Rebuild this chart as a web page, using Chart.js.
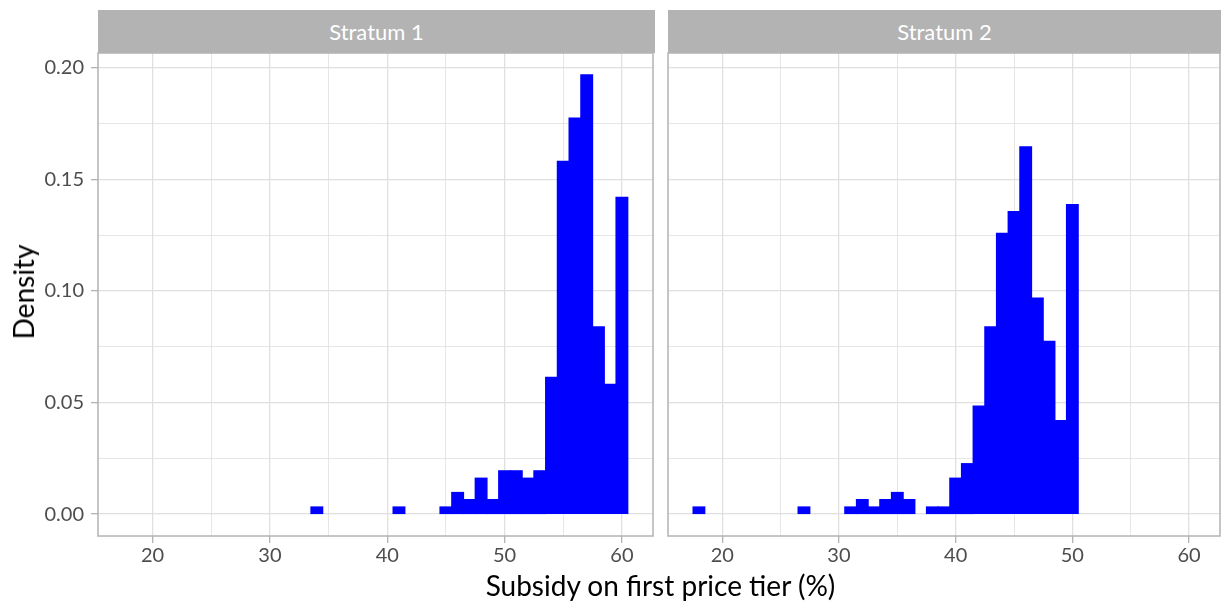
<!DOCTYPE html>
<html>
<head>
<meta charset="utf-8">
<script src="https://cdn.jsdelivr.net/npm/chart.js@4"></script>
<style>
  html, body { margin: 0; padding: 0; background: #ffffff; }
  #wrap { position: relative; width: 1221px; height: 603px; overflow: hidden; font-family: Lato, sans-serif; }
  .strip {
    position: absolute; top: 10px; height: 43px; background: #b3b3b3; color: #ffffff;
    font-size: 22px; line-height: 43px; text-align: center;
  }
  .panel { position: absolute; top: 0; height: 603px; }
  #xtitle { position: absolute; left: 0; width: 1321px; top: 571px; text-align: center; font-size: 28px; line-height: 28px; color: #000; }
  #ytitle {
    position: absolute; left: 23px; top: 292px; font-size: 28px; line-height: 28px; color: #000;
    transform: translate(-50%, -50%) rotate(-90deg); white-space: nowrap;
  }
</style>
</head>
<body>
<div id="wrap">
  <div class="panel" style="left:0;width:660px"><canvas id="chart1"></canvas></div>
  <div class="panel" style="left:660px;width:561px"><canvas id="chart2"></canvas></div>
  <div class="strip" style="left:98px;width:557px">Stratum 1</div>
  <div class="strip" style="left:668px;width:553px">Stratum 2</div>
  <div id="xtitle">Subsidy on first price tier (%)</div>
  <div id="ytitle">Density</div>
</div>

<script>
/* ================================
   DATA (bin centres, width 1)
================================ */
const panelTitles = ["Stratum 1", "Stratum 2"];

const stratum1Bins = [34, 41, 45, 46, 47, 48, 49, 50, 51, 52, 53, 54, 55, 56, 57, 58, 59, 60];
const stratum1Density = [0.0032, 0.0032, 0.0032, 0.0097, 0.0065, 0.0161, 0.0065, 0.0194, 0.0194,
                         0.0161, 0.0194, 0.0613, 0.1581, 0.1774, 0.1968, 0.0839, 0.0581, 0.1419];

const stratum2Bins = [18, 27, 31, 32, 33, 34, 35, 36, 38, 39, 40, 41, 42, 43, 44, 45, 46, 47, 48, 49, 50];
const stratum2Density = [0.0032, 0.0032, 0.0032, 0.0065, 0.0032, 0.0065, 0.0097, 0.0065, 0.0032, 0.0032,
                         0.0161, 0.0226, 0.0484, 0.0839, 0.1258, 0.1355, 0.1645, 0.0968, 0.0774, 0.0419, 0.1387];

const xMajorTicks = [20, 30, 40, 50, 60];
const xMinorTicks = [25, 35, 45, 55];
const yMajorTicks = [0, 0.05, 0.10, 0.15, 0.20];
const yMinorTicks = [0.025, 0.075, 0.125, 0.175];

const X_MIN = 15.35, X_MAX = 62.65;
const Y_MIN = -0.0098, Y_MAX = 0.2066;

const GRID = "#e0e0e0";
const FRAME = "#b3b3b3";
const TICK_TEXT = "#4d4d4d";

/* ================================
   HELPERS
================================ */
function setTicks(major, minor) {
    return function (scale) {
        scale.ticks = major.concat(minor).sort((a, b) => a - b).map(v => ({ value: v }));
    };
}

const frame = {
    id: "frame",
    afterDatasetsDraw(chart) {
        const a = chart.chartArea;
        const ctx = chart.ctx;
        ctx.save();
        ctx.strokeStyle = FRAME;
        ctx.lineWidth = 1.5;
        ctx.strokeRect(a.left, a.top, a.right - a.left, a.bottom - a.top);
        ctx.restore();
    }
};

function makePanel(canvasId, bins, density, showY, axisWidth, padRight) {
    return new Chart(document.getElementById(canvasId), {
        type: "bar",
        data: {
            datasets: [{
                data: bins.map((b, i) => ({ x: b, y: density[i] })),
                backgroundColor: "#0000ff",
                borderWidth: 0,
                inflateAmount: 0.6,
                barPercentage: 1,
                categoryPercentage: 1
            }]
        },
        options: {
            responsive: true,
            maintainAspectRatio: false,
            animation: false,
            layout: { padding: { top: 53, right: padRight, left: 0, bottom: 0 } },
            plugins: { legend: { display: false }, tooltip: { enabled: false } },
            scales: {
                x: {
                    type: "linear",
                    min: X_MIN, max: X_MAX,
                    offset: false,
                    afterBuildTicks: setTicks(xMajorTicks, xMinorTicks),
                    afterFit(scale) { scale.height = 67; },
                    border: { display: false },
                    grid: {
                        offset: false,
                        color: GRID,
                        lineWidth: c => xMajorTicks.includes(c.tick.value) ? 1.3 : 0.8,
                        tickColor: c => xMajorTicks.includes(c.tick.value) ? FRAME : "rgba(0,0,0,0)",
                        tickLength: 7,
                        tickWidth: 1.3
                    },
                    ticks: {
                        autoSkip: false,
                        maxRotation: 0,
                        padding: 1,
                        color: TICK_TEXT,
                        font: { family: "Lato", size: 20 },
                        callback: v => xMajorTicks.includes(v) ? String(v) : ""
                    }
                },
                y: {
                    min: Y_MIN, max: Y_MAX,
                    afterBuildTicks: setTicks(yMajorTicks, yMinorTicks),
                    afterFit(scale) { scale.width = axisWidth; },
                    border: { display: false },
                    grid: {
                        color: GRID,
                        lineWidth: c => yMajorTicks.includes(c.tick.value) ? 1.3 : 0.8,
                        tickColor: c => yMajorTicks.includes(c.tick.value) ? FRAME : "rgba(0,0,0,0)",
                        drawTicks: showY,
                        tickLength: 7,
                        tickWidth: 1.3
                    },
                    ticks: {
                        display: showY,
                        autoSkip: false,
                        padding: 7,
                        color: TICK_TEXT,
                        font: { family: "Lato", size: 20 },
                        callback: v => yMajorTicks.includes(v) ? v.toFixed(2) : ""
                    }
                }
            }
        },
        plugins: [frame]
    });
}

makePanel("chart1", stratum1Bins, stratum1Density, true, 98, 7);
makePanel("chart2", stratum2Bins, stratum2Density, false, 8, 1);
</script>
</body>
</html>
